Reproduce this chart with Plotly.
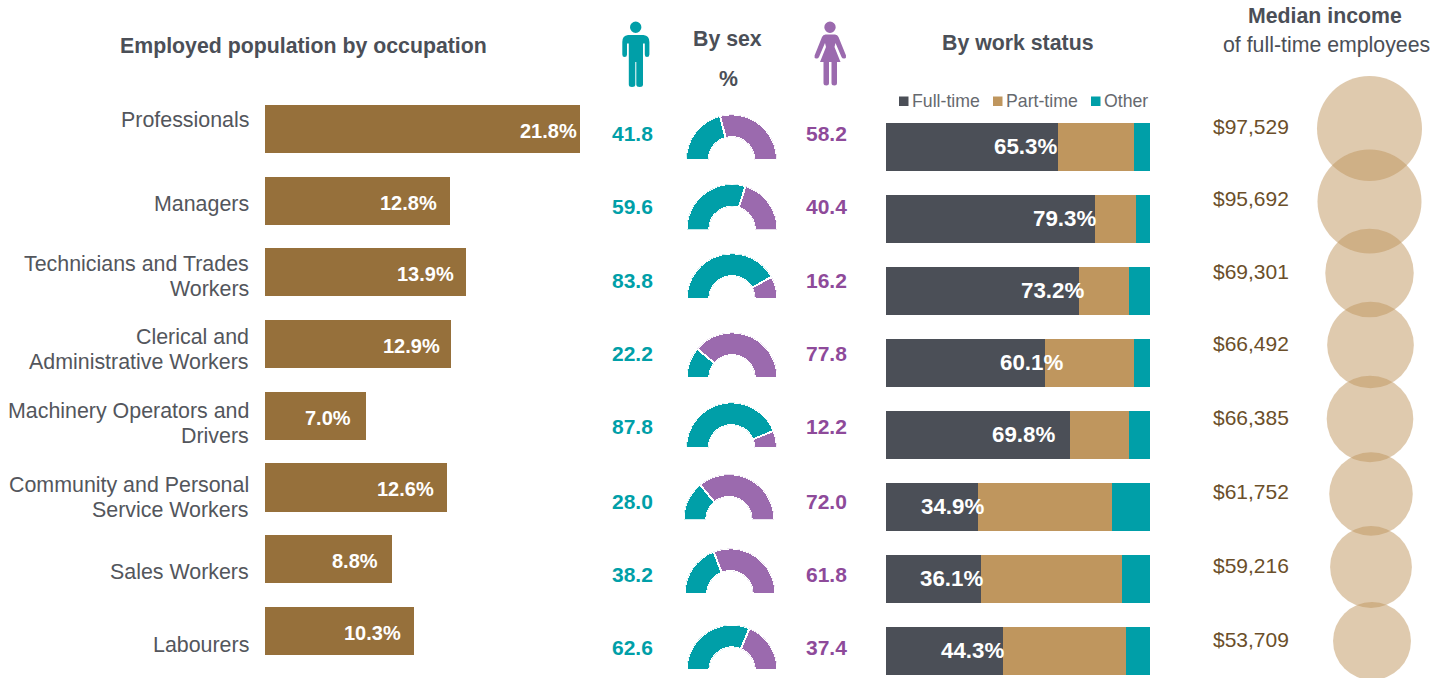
import plotly.graph_objects as go

# ---- data ----
occupations = ["Professionals", "Managers", "Technicians and Trades<br>Workers",
               "Clerical and<br>Administrative Workers", "Machinery Operators and<br>Drivers",
               "Community and Personal<br>Service Workers", "Sales Workers", "Labourers"]
employed_share = [21.8, 12.8, 13.9, 12.9, 7.0, 12.6, 8.8, 10.3]
male_share = [41.8, 59.6, 83.8, 22.2, 87.8, 28.0, 38.2, 62.6]
female_share = [58.2, 40.4, 16.2, 77.8, 12.2, 72.0, 61.8, 37.4]
full_time = [65.3, 79.3, 73.2, 60.1, 69.8, 34.9, 36.1, 44.3]
part_time = [28.8, 15.5, 18.9, 34.0, 22.3, 50.7, 53.4, 46.6]
other_status = [5.9, 5.2, 7.9, 5.9, 7.9, 14.4, 10.5, 9.1]
median_income = [97529, 95692, 69301, 66492, 66385, 61752, 59216, 53709]

# ---- style / layout ----
W, H = 1446, 678
FONT = "Liberation Sans"
DARK, BROWN, TAN, TEAL, PURPLE = "#4B4F57", "#96703B", "#BF965E", "#009FA8", "#9B6AAE"
PURPLE_TXT, LABEL, INCOME_TXT = "#8E4A9A", "#53565C", "#6B4F2A"

label_y = [121, 205, 277.5, 350.5, 424, 498.5, 573, 646]
share_label_right = [577, 437, 454, 440, 351, 434, 378, 401]
sex_text_y = [134, 207, 281, 354, 427, 502, 575, 648]
donut_cx = [731.5, 732, 732, 732, 731.5, 729, 730, 732]
donut_base = [158.7, 228.3, 297.7, 376.7, 446.7, 518.5, 592.7, 669]
status_label_y = [147, 219, 291, 363, 435, 507, 579, 651]
status_label_right = [1057, 1096, 1084, 1063, 1055, 984, 983, 1004]
income_text_y = [127, 199, 272, 344, 418, 492, 566, 640]
bubble_y = [128.5, 201.5, 273, 345, 419, 494, 567, 641]
bubble_x = [1369.5, 1369.5, 1369.5, 1370.5, 1370, 1371, 1371, 1372]
R_OUT = 45.5


def xf(px):
    return px / W


def yf(py):
    return 1 - py / H


fig = go.Figure()

# occupation bars
fig.add_trace(go.Bar(x=employed_share, y=list(range(8)), orientation="h", width=0.67,
                     marker=dict(color=BROWN, line=dict(width=0)), xaxis="x", yaxis="y",
                     hoverinfo="skip", showlegend=False))

# work status stacks
for name, vals, col in [("Full-time", full_time, DARK), ("Part-time", part_time, TAN), ("Other", other_status, TEAL)]:
    fig.add_trace(go.Bar(x=vals, y=list(range(8)), orientation="h", width=0.667, name=name,
                         marker=dict(color=col, line=dict(width=0)), xaxis="x2", yaxis="y2",
                         hoverinfo="skip", showlegend=False))

# income bubbles, area proportional to value
D_MAX = 105
fig.add_trace(go.Scatter(x=bubble_x, y=bubble_y, mode="markers", xaxis="x3", yaxis="y3", hoverinfo="skip",
                         showlegend=False,
                         marker=dict(size=median_income, sizemode="area", sizeref=2 * max(median_income) / D_MAX ** 2,
                                     opacity=1, color="rgba(191,150,94,0.5)", line=dict(width=0))))

layout = dict(
    width=W, height=H, margin=dict(l=0, r=0, t=0, b=0), autosize=False,
    paper_bgcolor="white", plot_bgcolor="rgba(0,0,0,0)", barmode="stack", font=dict(family=FONT),
    xaxis=dict(domain=[xf(265), xf(580)], range=[0, 21.8], visible=False, fixedrange=True),
    yaxis=dict(domain=[yf(129 + 71.7 * 7.5), yf(129 - 71.7 * 0.5)], range=[7.5, -0.5], visible=False, fixedrange=True),
    xaxis2=dict(domain=[xf(886), xf(1150)], range=[0, 100], visible=False, fixedrange=True, anchor="y2"),
    yaxis2=dict(domain=[0, yf(147 - 72 * 0.5)], range=[(H - 147) / 72, -0.5], visible=False, fixedrange=True, anchor="x2"),
    xaxis3=dict(domain=[0, 1], range=[0, W], visible=False, fixedrange=True, anchor="y3"),
    yaxis3=dict(domain=[0, 1], range=[H, 0], visible=False, fixedrange=True, anchor="x3"),
)

# half-donuts (one polar sector per occupation)
for i, (m, f) in enumerate(zip(male_share, female_share)):
    key = "polar" if i == 0 else f"polar{i + 1}"
    t = m + f
    am, af = 180 * m / t, 180 * f / t
    fig.add_trace(go.Barpolar(r=[1, 1], theta=[am / 2, am + af / 2], width=[am, af], subplot=key,
                              marker=dict(color=[TEAL, PURPLE], line=dict(color="white", width=2)),
                              hoverinfo="skip", showlegend=False))
    cx, base = donut_cx[i], donut_base[i]
    layout[key] = dict(
        domain=dict(x=[xf(cx - R_OUT), xf(cx + R_OUT)], y=[yf(base + 1.2), yf(base + 1.2 - R_OUT)]),
        sector=[0, 180], hole=0.50, bgcolor="rgba(0,0,0,0)",
        radialaxis=dict(visible=False, range=[0, 1]),
        angularaxis=dict(visible=False, direction="clockwise", rotation=180),
    )

annotations = []


def text(x, y, s, size, color, bold=False, anchor="center"):
    annotations.append(dict(x=x, y=y - 0.7, xref="x3", yref="y3", text=f"<b>{s}</b>" if bold else s, showarrow=False,
                            xanchor=anchor, yanchor="middle", borderpad=0, borderwidth=0,
                            font=dict(family=FONT, size=size, color=color)))


text(303, 47, "Employed population by occupation", 21.3, DARK, True)
text(727, 40, "By sex", 21.3, DARK, True)
text(728, 80, "%", 21.3, DARK, True)
text(1018, 44, "By work status", 21.3, DARK, True)
text(1325, 17, "Median income", 21.3, DARK, True)
text(1326, 46, "of full-time employees", 21.3, DARK)

for i in range(8):
    lines = occupations[i].split("<br>")
    for j, ln in enumerate(lines):
        text(249, label_y[i] + (j - (len(lines) - 1) / 2) * 25, ln, 21.4, LABEL, anchor="right")
    text(share_label_right[i], 131.5 + 71.7 * i, f"{employed_share[i]:.1f}%", 20, "white", True, "right")
    text(632.5, sex_text_y[i], f"{male_share[i]:.1f}", 21, TEAL, True)
    text(826, sex_text_y[i], f"{female_share[i]:.1f}", 21, PURPLE_TXT, True)
    text(status_label_right[i], status_label_y[i], f"{full_time[i]:.1f}%", 22.3, "white", True, "right")
    text(1251, income_text_y[i], f"${median_income[i]:,}", 21, INCOME_TXT)

# legend
shapes = []
for sx, tx, name, col in [(899, 912, "Full-time", DARK), (993, 1006, "Part-time", TAN), (1091, 1104, "Other", TEAL)]:
    shapes.append(dict(type="rect", xref="x3", yref="y3", x0=sx, x1=sx + 9.5, y0=96.5, y1=106,
                       fillcolor=col, line=dict(width=0)))
    text(tx, 101.5, name, 17.7, "#66696E", anchor="left")

# pictograms
man = ("M628,35 Q622.3,35.5 622.3,42 L622.3,54.5 Q622.3,57 624.6,57 Q627,57 627,54.5 L627,43.5 L628.8,43.5 "
       "L628.8,84.5 Q628.8,87 632,87 Q635.3,87 635.3,84.5 L635.3,62 L636.3,62 L636.3,84.5 Q636.3,87 639.7,87 "
       "Q643,87 643,84.5 L643,43.5 L644.8,43.5 L644.8,54.5 Q644.8,57 647,57 Q649.4,57 649.4,54.5 L649.4,42 "
       "Q649.4,35.5 643.5,35 Z")
woman = ("M825.5,34.5 Q823,34.5 822,37 L814.6,55.5 Q814,58 816,58.5 Q818,59 819,57 L825,43 L826,47 L820,62 "
         "L823.5,62 L823.5,83 Q823.5,85.5 826.3,85.5 Q829,85.5 829,83 L829,62 L831.5,62 L831.5,83 "
         "Q831.5,85.5 834.3,85.5 Q837,85.5 837,83 L837,62 L840.5,62 L834.5,47 L835.5,43 L841.5,57 "
         "Q842.5,59 844.5,58.5 Q846.5,58 846,55.5 L838.5,37 Q837.5,34.5 835,34.5 Z")
shapes += [
    dict(type="circle", xref="x3", yref="y3", x0=630, x1=641.4, y0=21.6, y1=33, fillcolor=TEAL, line=dict(width=0)),
    dict(type="path", xref="x3", yref="y3", path=man, fillcolor=TEAL, line=dict(width=0)),
    dict(type="circle", xref="x3", yref="y3", x0=824.3, x1=835.7, y0=21.6, y1=33, fillcolor=PURPLE, line=dict(width=0)),
    dict(type="path", xref="x3", yref="y3", path=woman, fillcolor=PURPLE, line=dict(width=0)),
]

layout["annotations"] = annotations
layout["shapes"] = shapes
fig.update_layout(**layout)
fig.write_html("out.html", config={"displayModeBar": False},
               post_script="document.body.style.margin='0';document.documentElement.style.overflow='hidden';")
